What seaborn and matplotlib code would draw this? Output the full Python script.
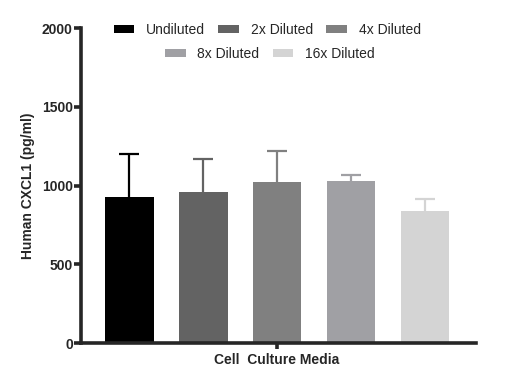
import numpy as np
import pandas as pd
import seaborn as sns
import matplotlib
matplotlib.use('Agg')
import matplotlib.pyplot as plt

sns.set_style('ticks')
plt.rcParams['font.family'] = ['Liberation Sans', 'DejaVu Sans']

# Data
group = 'Cell  Culture Media'
dilutions = ['Undiluted', '2x Diluted', '4x Diluted', '8x Diluted', '16x Diluted']
means = [927, 959, 1022, 1029, 838]
sd_upper = [273, 209, 197, 38, 76]
colors = ['#000000', '#636363', '#808080', '#a0a0a4', '#d4d4d4']

df = pd.DataFrame({'group': [group] * len(dilutions), 'dilution': dilutions, 'conc': means})

fig = plt.figure(figsize=(5.2, 3.89), dpi=100)
ax = fig.add_axes([0.156, 0.118, 0.759, 0.810])

sns.barplot(data=df, x='group', y='conc', hue='dilution', hue_order=dilutions,
            palette=colors, width=0.8, gap=0.34, errorbar=None, saturation=1,
            linewidth=0, ax=ax)

# error bars (upper only) at the centre of each bar; the lower half is hidden
# behind the bar so only the upward whisker shows
bars = [p for p in ax.patches if p.get_height() > 0][:len(dilutions)]
for bar, err, col in zip(bars, sd_upper, colors):
    bar.set_zorder(3)
    h = bar.get_height()
    xc = bar.get_x() + bar.get_width() / 2
    ax.errorbar(xc, h, yerr=[[h / 2], [err]], fmt='none',
                ecolor=col, elinewidth=1.6, capsize=7, capthick=1.6, zorder=2)

ax.set_ylim(0, 2000)
ax.set_yticks([0, 500, 1000, 1500, 2000])
ax.set_xlim(-0.424, 0.430)
ax.set_xlabel('')
ax.set_ylabel('Human CXCL1 (pg/ml)', fontsize=10, fontweight='bold', labelpad=5)

for s in ['top', 'right']:
    ax.spines[s].set_visible(False)
for s in ['left', 'bottom']:
    ax.spines[s].set_linewidth(2.6)
    ax.spines[s].set_zorder(4)
ax.tick_params(axis='y', length=5, width=2.6, labelsize=10, pad=1)
ax.tick_params(axis='x', length=4, width=2.6, labelsize=10, pad=3)
for lbl in ax.get_xticklabels() + ax.get_yticklabels():
    lbl.set_fontweight('bold')

# legend: two centred rows
handles, labels = ax.get_legend_handles_labels()
ax.get_legend().remove()
common = dict(frameon=False, fontsize=10, handlelength=1.5, handleheight=0.43,
              handletextpad=0.85, columnspacing=0.95, borderpad=0, borderaxespad=0)
leg1 = fig.legend(handles[:3], labels[:3], ncol=3, loc='center',
                  bbox_to_anchor=(0.514, 0.923), **common)
leg2 = fig.legend(handles[3:], labels[3:], ncol=2, loc='center',
                  bbox_to_anchor=(0.519, 0.861), **common)

fig.savefig('out.png', dpi=100)
